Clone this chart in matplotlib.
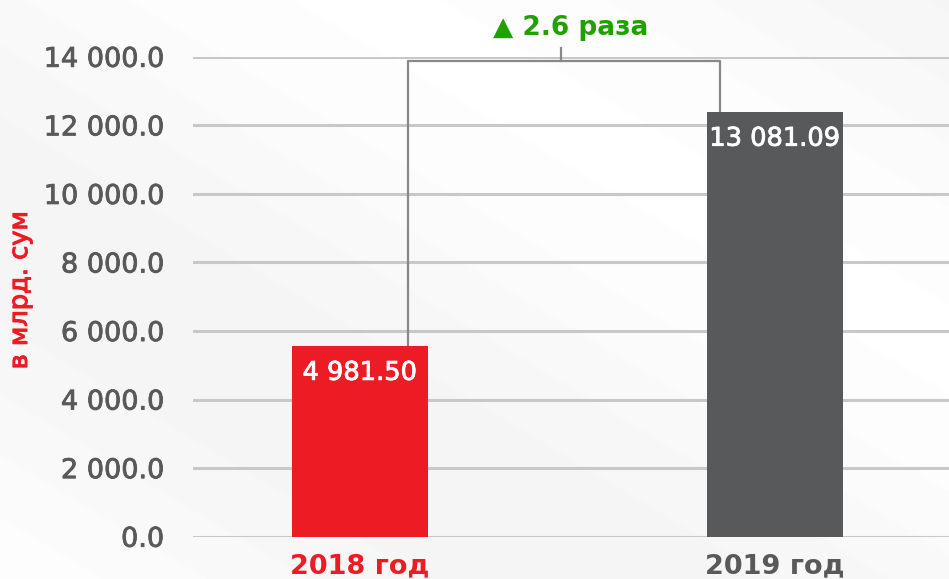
import numpy as np
import matplotlib
matplotlib.use("Agg")
import matplotlib.pyplot as plt
import matplotlib.patheffects as pe
from matplotlib.ticker import FuncFormatter

# data
years = ['2018 год', '2019 год']
bar_heights = [5560, 12390]          # drawn heights of the bars
bar_labels = ['4 981.50', '13 081.09']
growth_text = '\u25B2 2.6 раза'
y_ticks = [0, 2000, 4000, 6000, 8000, 10000, 12000, 14000]

red = '#ed1c24'
dark = '#58595b'
tick_grey = '#595959'
green = '#22a000'

plt.rcParams['font.family'] = ['DejaVu Sans']

fig = plt.figure(figsize=(9.49, 5.79), dpi=100)

# soft light background with faint diagonal bands
bg = fig.add_axes([0, 0, 1, 1])
yy, xx = np.mgrid[0:579, 0:949]
band = np.sin((xx * 0.6 - yy) / 140.0) * 0.5 + 0.5
shade = 0.96 + 0.037 * band
bg.imshow(shade, cmap='gray', vmin=0, vmax=1, aspect='auto',
          extent=[0, 1, 0, 1])
bg.axis('off')

ax = fig.add_axes([193 / 949, 42.3 / 579, 756 / 949, 479.9 / 579])
ax.patch.set_alpha(0)
x = np.arange(len(years))
bars = ax.bar(x, bar_heights, width=0.328, color=[red, dark], zorder=3)
ax.set_xlim(-0.402, 1.419)
ax.set_ylim(0, 14000)
ax.set_yticks(y_ticks)
ax.yaxis.set_major_formatter(FuncFormatter(
    lambda v, p: '{:,.1f}'.format(v).replace(',', ' ')))
ax.grid(axis='y', color='#c8c8c8', linewidth=2.2, zorder=0)
for s in ax.spines.values():
    s.set_visible(False)
ax.tick_params(axis='y', length=0, pad=21, labelsize=19.5, labelcolor=tick_grey)
ax.tick_params(axis='x', length=0, pad=12, labelsize=19.5)
ax.set_xticks(x)
ax.set_xticklabels(years, fontweight='bold')
for lbl, c in zip(ax.get_xticklabels(), [red, tick_grey]):
    lbl.set_color(c)
for lbl in ax.get_yticklabels():
    lbl.set_path_effects([pe.withStroke(linewidth=0.6, foreground=tick_grey)])

for b, t in zip(bars, bar_labels):
    ax.text(b.get_x() + b.get_width() / 2, b.get_height() - 400, t,
            ha='center', va='top', color='white', fontsize=18.5, zorder=4,
            path_effects=[pe.withStroke(linewidth=0.6, foreground='white')])

# bracket between the two bars
bx0, bx1, bxm = 0.117, 0.867, 0.484
btop = 13877
ax.plot([bx0, bx0, bx1, bx1], [bar_heights[0], btop, btop, bar_heights[1]],
        color='#888888', lw=1.6, clip_on=False, zorder=2)
ax.plot([bxm, bxm], [btop, 14260], color='#888888', lw=1.6, clip_on=False)
ax.text(0.507, 14850, growth_text, ha='center', va='center', color=green,
        fontsize=19, fontweight='bold', clip_on=False)

fig.text(20 / 949, 1 - 290 / 579, 'в млрд. сум', rotation=90, color=red,
         fontsize=18.5, ha='center', va='center',
         path_effects=[pe.withStroke(linewidth=0.8, foreground=red)])

fig.savefig('out.png', dpi=100)
